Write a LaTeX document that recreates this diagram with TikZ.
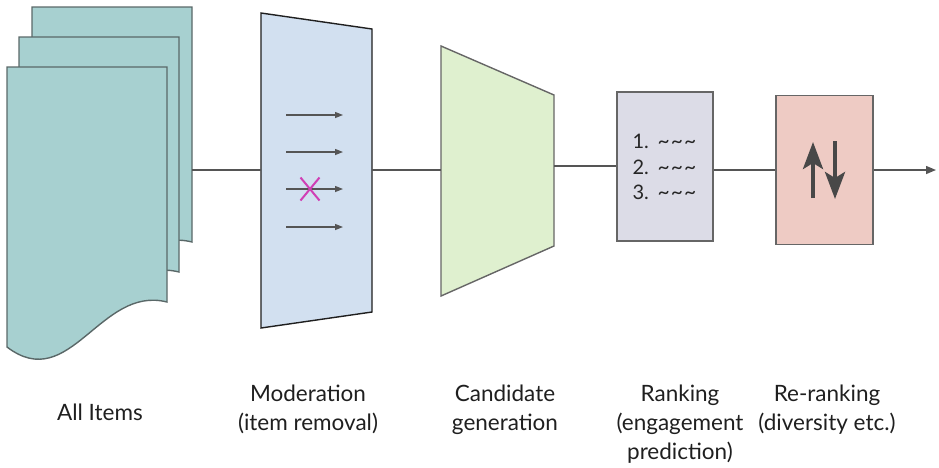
\documentclass[tikz,border=0pt]{standalone}
\usepackage{fontspec}
\setmainfont{Lato}
\usetikzlibrary{arrows.meta}
\definecolor{docfill}{HTML}{A7D0D0}
\definecolor{docline}{HTML}{5A6868}
\definecolor{modfill}{HTML}{D2E0F0}
\definecolor{candfill}{HTML}{DFF0CF}
\definecolor{rankfill}{HTML}{DCDCE7}
\definecolor{rerankfill}{HTML}{EECBC4}
\definecolor{edge}{HTML}{666666}
\definecolor{conn}{HTML}{555555}
\definecolor{xmark}{HTML}{D03FB5}
\tikzset{
  docsheet/.style={fill=docfill,draw=docline,line width=1.4pt},
  stagebox/.style={draw=edge,line width=1.4pt},
  connector/.style={draw=conn,line width=1.4pt},
  smallarrow/.style={draw=conn,line width=1.3pt,-{Triangle[length=8pt,width=6pt]}},
  bigarrow/.style={draw=conn!85!black,line width=4pt,-{Stealth[length=27pt,width=20pt,inset=6pt]}},
  lbl/.style={font=\fontsize{22.5}{29}\selectfont,align=center,text=black!88},
  ranktext/.style={font=\fontsize{20}{25.5}\selectfont,align=left,text=black!85}
}
\newcommand{\docshape}{(7,67) -- (167,67) -- (167,302) .. controls (100,285) and (70,395) .. (7,347) -- cycle}
\newcommand{\tildes}{\hspace{2pt}{\fontsize{21}{21}\selectfont\textasciitilde\kern1pt\textasciitilde\kern1pt\textasciitilde}}
\begin{document}
\begin{tikzpicture}[x=1pt,y=-1pt]
\useasboundingbox (0,0) rectangle (939,467);
% All items: stacked documents
\begin{scope}[shift={(25,-60)}]
  \path[docsheet] \docshape;
\end{scope}
\begin{scope}[shift={(12,-30)}]
  \path[docsheet] \docshape;
\end{scope}
\path[docsheet] \docshape;
\coordinate (docs-e) at (192,170);
% Moderation
\path[fill=modfill,draw=black!88,line width=1.4pt] (261,13) -- (372,29) -- (372,312) -- (261,328) -- cycle;
\coordinate (mod-w) at (261,170);
\coordinate (mod-e) at (372,170);
\foreach \yy [count=\i] in {115,152,189,227}{
  \coordinate (ma\i) at (286,\yy);
  \coordinate (mb\i) at (343,\yy);
  \draw[smallarrow] (ma\i) -- (mb\i);
}
\coordinate (xc) at (310,189);
\draw[xmark,line width=2pt] ([shift={(-9.5,-11.5)}]xc) -- ([shift={(9.5,11.5)}]xc)
  ([shift={(9.5,-11.5)}]xc) -- ([shift={(-9.5,11.5)}]xc);
% Candidate generation
\path[fill=candfill,stagebox] (441,46) -- (554,95) -- (554,246) -- (441,296) -- cycle;
\coordinate (cand-w) at (441,170);
\coordinate (cand-e) at (554,166);
% Ranking
\node[stagebox,fill=rankfill,minimum width=96pt,minimum height=149pt,inner sep=0pt] (rank) at (665,166.5) {};
\node[ranktext,anchor=west] (ranklist) at (629,167) {1. \tildes\\2. \tildes\\3. \tildes};
% Re-ranking
\node[stagebox,fill=rerankfill,minimum width=97pt,minimum height=149pt,inner sep=0pt] (rerank) at (824.5,170) {};
\coordinate (up-s) at (813,198);
\coordinate (up-t) at (813,142);
\coordinate (dn-s) at (835,141);
\coordinate (dn-t) at (835,199);
\draw[bigarrow] (up-s) -- (up-t);
\draw[bigarrow] (dn-s) -- (dn-t);
\coordinate (out) at (936,170);
% Connectors
\draw[connector] (docs-e) -- (mod-w);
\draw[connector] (mod-e) -- (cand-w);
\draw[connector] (cand-e) -- (rank.west |- cand-e);
\draw[connector] (rank.east |- rerank.west) -- (rerank.west);
\draw[connector,-{Triangle[length=10pt,width=8pt]}] (rerank.east) -- (out);
% Labels
\node[lbl] (l-all) at (100,412) {All Items};
\node[lbl] (l-mod) at (308,409.5) {Moderation\\(item removal)};
\node[lbl] (l-cand) at (505,409.5) {Candidate\\generation};
\node[lbl] (l-rank) at (680,424) {Ranking\\(engagement\\prediction)};
\node[lbl] (l-rerank) at (827,409.5) {Re-ranking\\(diversity etc.)};
\end{tikzpicture}
\end{document}
